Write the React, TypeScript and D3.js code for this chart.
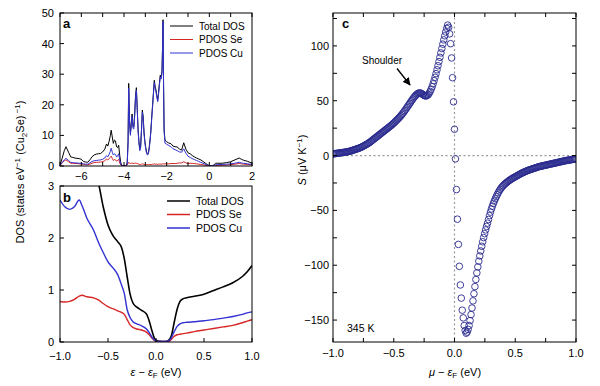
import React from 'react';
import * as d3 from 'd3';

const FONT = '"Liberation Sans", Arial, Helvetica, sans-serif';

// ---- panel a : DOS over the wide energy window (eV, states/eV/f.u.) ----
const aEnergy = [
  -7.0, -6.9, -6.8, -6.72, -6.6, -6.5, -6.4, -6.3, -6.2, -6.1,
  -6.0, -5.9, -5.8, -5.7, -5.6, -5.5, -5.4, -5.3, -5.2, -5.1,
  -5.0, -4.9, -4.82, -4.76, -4.7, -4.64, -4.6, -4.55, -4.5, -4.45,
  -4.4, -4.35, -4.3, -4.25, -4.2, -4.15, -4.1, -4.0, -3.9, -3.85,
  -3.81, -3.78, -3.74, -3.7, -3.66, -3.62, -3.58, -3.54, -3.5, -3.46,
  -3.42, -3.38, -3.34, -3.3, -3.26, -3.22, -3.18, -3.14, -3.1, -3.06,
  -3.02, -2.98, -2.94, -2.9, -2.86, -2.82, -2.78, -2.74, -2.7, -2.66,
  -2.62, -2.58, -2.54, -2.5, -2.46, -2.42, -2.38, -2.34, -2.3, -2.26,
  -2.22, -2.19, -2.17, -2.15, -2.12, -2.08, -2.0, -1.9, -1.8, -1.7,
  -1.6, -1.5, -1.4, -1.3, -1.2, -1.1, -1.0, -0.9, -0.8, -0.7,
  -0.6, -0.5, -0.4, -0.3, -0.2, -0.1, 0, 0.1, 0.2, 0.3,
  0.4, 0.6, 0.8, 1.0, 1.2, 1.4, 1.5, 1.6, 1.8, 2.0,
];
const aTotal = [
  0.3, 2.5, 5.0, 6.3, 4.5, 3.0, 2.8, 2.6, 2.5, 2.4,
  2.2, 1.5, 1.3, 1.2, 2.0, 3.0, 3.6, 3.9, 4.0, 4.1,
  4.6, 5.5, 7.2, 6.5, 8.0, 10.0, 11.7, 9.5, 7.4, 8.5,
  8.2, 6.3, 6.0, 6.8, 3.5, 1.0, 0.2, 0.1, 0.2, 1.0,
  8, 27, 15, 10.6, 14, 17, 13, 12.8, 17, 23,
  25.6, 19, 12, 8, 5.5, 6.5, 12, 18.3, 16, 11,
  8, 6, 4.5, 4.1, 4.3, 6, 8.5, 11.7, 16, 20,
  24, 28, 26, 24.8, 23, 21.5, 24, 27, 29.7, 29,
  31, 40, 47.8, 30, 12, 8.5, 7.9, 7.5, 7.3, 6.5,
  6.3, 6.2, 5.5, 5.2, 7.6, 5.5, 4.3, 4.0, 3.4, 3.0,
  2.6, 2.3, 2.0, 1.5, 1.0, 0.5, 0.1, 0.1, 0.3, 0.9,
  0.9, 0.9, 1.1, 1.4, 2.0, 2.6, 2.2, 1.9, 1.5, 0.9,
];
const aSe = [
  0.1, 1.0, 1.7, 2.0, 1.4, 0.9, 0.9, 0.8, 0.8, 0.7,
  0.7, 0.5, 0.4, 0.4, 0.6, 0.9, 1.1, 1.2, 1.2, 1.3,
  1.4, 1.7, 2.3, 2.0, 2.4, 2.8, 3.2, 2.5, 1.8, 2.1,
  2.0, 1.6, 1.8, 2.2, 1.0, 0.3, 0.1, 0.05, 0.1, 0.3,
  0.8, 1.2, 0.9, 0.8, 0.9, 1.0, 0.8, 0.8, 0.9, 0.9,
  0.9, 0.8, 0.7, 0.6, 0.5, 0.5, 0.6, 0.7, 0.6, 0.5,
  0.5, 0.5, 0.5, 0.5, 0.5, 0.5, 0.5, 0.5, 0.5, 0.6,
  0.6, 0.7, 0.6, 0.6, 0.6, 0.5, 0.6, 0.6, 0.6, 0.6,
  0.6, 0.7, 0.7, 0.7, 0.7, 0.7, 0.7, 0.7, 0.8, 0.8,
  0.8, 0.9, 1.0, 1.0, 1.4, 1.0, 0.8, 0.9, 0.85, 0.8,
  0.7, 0.6, 0.5, 0.4, 0.25, 0.15, 0.02, 0.02, 0.1, 0.15,
  0.2, 0.25, 0.3, 0.45, 0.6, 0.8, 0.7, 0.6, 0.5, 0.4,
];
const aCu = [
  0.2, 1.2, 2.0, 2.5, 1.8, 1.2, 1.1, 1.0, 1.0, 0.9,
  0.9, 0.7, 0.6, 0.6, 1.0, 1.5, 1.7, 1.8, 1.9, 2.0,
  2.2, 2.6, 3.4, 3.0, 3.8, 4.8, 5.8, 4.5, 3.6, 4.0,
  3.8, 3.0, 3.2, 4.0, 2.0, 0.6, 0.1, 0.05, 0.1, 0.6,
  7, 25.5, 14, 10, 13.3, 16.2, 12.3, 12.1, 16.2, 22.2,
  24.8, 18.3, 11.4, 7.5, 5.0, 6.0, 11.4, 17.6, 15.4, 10.5,
  7.5, 5.5, 4.0, 3.6, 3.8, 5.5, 8, 11.2, 15.5, 19.4,
  23.4, 27.3, 25.4, 24.2, 22.4, 21, 23.4, 26.4, 29.1, 28.4,
  30.4, 39.3, 47.2, 29.4, 11.3, 7.5, 7.1, 6.7, 6.3, 5.6,
  5.3, 5.0, 4.6, 4.5, 5.6, 4.2, 3.2, 2.8, 2.4, 2.1,
  1.8, 1.5, 1.2, 0.9, 0.6, 0.3, 0.05, 0.05, 0.15, 0.4,
  0.45, 0.5, 0.6, 0.7, 0.9, 1.2, 1.0, 0.9, 0.7, 0.5,
];

// ---- panel b : zoom around the Fermi level ----
const bEnergy = [
  -1.0, -0.95, -0.9, -0.85, -0.8, -0.77, -0.72, -0.65, -0.6, -0.55,
  -0.5, -0.45, -0.4, -0.36, -0.33, -0.3, -0.27, -0.24, -0.2, -0.15,
  -0.1, -0.07, -0.04, -0.01, 0.02, 0.06, 0.1, 0.13, 0.16, 0.19,
  0.22, 0.25, 0.28, 0.32, 0.4, 0.5, 0.6, 0.7, 0.8, 0.9,
  0.95, 1.0,
];
const bTotal = [
  4.6, 4.4, 4.2, 4.0, 3.8, 3.65, 3.45, 3.2, 3.05, 2.6,
  2.25, 2.05, 1.93, 1.82, 1.6, 1.25, 0.92, 0.75, 0.67, 0.61,
  0.54, 0.4, 0.2, 0.05, 0.02, 0.01, 0.01, 0.03, 0.12, 0.38,
  0.63, 0.78, 0.83, 0.85, 0.88, 0.92, 0.99, 1.06, 1.14, 1.26,
  1.35, 1.47,
];
const bSe = [
  0.78, 0.77, 0.78, 0.82, 0.88, 0.9, 0.87, 0.85, 0.81, 0.74,
  0.68, 0.64, 0.6, 0.57, 0.53, 0.43, 0.33, 0.28, 0.25, 0.23,
  0.19, 0.14, 0.07, 0.02, 0.01, 0.01, 0.01, 0.01, 0.05, 0.11,
  0.14, 0.15, 0.16, 0.17, 0.2, 0.23, 0.26, 0.29, 0.32, 0.37,
  0.4, 0.43,
];
const bCu = [
  2.73, 2.6, 2.55, 2.6, 2.73, 2.62, 2.38, 2.15, 1.92, 1.72,
  1.54, 1.43, 1.3, 1.1, 0.93, 0.62, 0.47, 0.39, 0.35, 0.31,
  0.25, 0.18, 0.09, 0.03, 0.01, 0.01, 0.01, 0.02, 0.08, 0.2,
  0.3, 0.35, 0.37, 0.38, 0.39, 0.41, 0.43, 0.46, 0.49, 0.53,
  0.56, 0.58,
];

// ---- panel c : Seebeck coefficient (uV/K), mu from -1 to 1 eV every 8 meV ----
const cStart = -1;
const cStep = 0.008;
const cSeebeck = [
  1.5, 1.6, 1.8, 1.9, 2.0, 2.1, 2.3, 2.4, 2.5, 2.6,
  2.8, 2.9, 3.0, 3.2, 3.4, 3.5, 3.7, 3.9, 4.1, 4.4,
  4.7, 5.0, 5.3, 5.6, 5.9, 6.2, 6.5, 6.8, 7.2, 7.6,
  8.0, 8.5, 9.0, 9.5, 10.0, 10.5, 11.0, 11.6, 12.2, 12.9,
  13.6, 14.3, 15.0, 15.7, 16.4, 17.1, 17.8, 18.5, 19.2, 19.9,
  20.6, 21.3, 22.0, 22.7, 23.4, 24.1, 24.8, 25.5, 26.2, 26.9,
  27.6, 28.4, 29.2, 30.0, 30.9, 31.8, 32.7, 33.6, 34.5, 35.5,
  36.5, 37.6, 38.7, 39.9, 41.1, 42.4, 43.7, 45.0, 46.3, 47.6,
  48.9, 50.2, 51.5, 52.7, 53.8, 54.8, 55.7, 56.4, 56.9, 57.1,
  57.0, 56.6, 56.0, 55.3, 54.7, 54.4, 54.4, 54.8, 55.6, 56.9,
  58.5, 60.5, 62.8, 65.4, 68.3, 71.4, 74.7, 78.2, 81.9, 85.7,
  89.6, 93.6, 97.6, 101.6, 105.5, 109.2, 112.7, 116.0, 119.0, 117,
  111, 102, 89, 71, 49, 24, -3, -31, -58, -81,
  -101, -118, -130, -141, -148, -155, -159.5, -162, -161, -158.5,
  -155, -150.5, -145, -139, -132.5, -126, -119.5, -113, -107, -101.5,
  -96.3, -91.5, -87, -82.7, -78.6, -74.8, -71.2, -67.8, -64.6, -61.6,
  -58.3, -54.8, -51.6, -48.7, -46.1, -43.7, -41.5, -39.4, -37.4, -35.6,
  -33.9, -32.3, -30.9, -29.6, -28.5, -27.5, -26.6, -25.8, -25.0, -24.3,
  -23.6, -22.9, -22.3, -21.7, -21.1, -20.6, -20.1, -19.6, -19.1, -18.6,
  -18.1, -17.6, -17.1, -16.6, -16.1, -15.7, -15.3, -14.9, -14.5, -14.1,
  -13.7, -13.4, -13.1, -12.8, -12.5, -12.2, -11.9, -11.6, -11.3, -11.0,
  -10.7, -10.4, -10.1, -9.9, -9.7, -9.5, -9.3, -9.1, -8.9, -8.7,
  -8.5, -8.3, -8.1, -7.9, -7.7, -7.5, -7.3, -7.1, -6.9, -6.7,
  -6.5, -6.3, -6.1, -5.9, -5.7, -5.5, -5.3, -5.1, -4.9, -4.7,
  -4.5, -4.4, -4.2, -4.1, -3.9, -3.8, -3.6, -3.5, -3.3, -3.2,
  -3.0,
];

const aXTicks = [-6, -4, -2, 0, 2];
const aYTicks = [0, 10, 20, 30, 40, 50];
const bXTicks = [-1, -0.5, 0, 0.5, 1];
const bYTicks = [0, 1, 2, 3];
const cXTicks = [-1, -0.5, 0, 0.5, 1];
const cYTicks = [-150, -100, -50, 0, 50, 100];

const seriesNames = ['Total DOS', 'PDOS Se', 'PDOS Cu'];
const COLORS = { total: '#000000', se: '#d62626', cu: '#3232d2' };
const CIRCLE = '#2a2a8e';

const fmtMinus = (v: number, digits: number) => {
  const s = Math.abs(v).toFixed(digits);
  return v < 0 ? '\u2212' + s : s;
};

const pts = (xs: number[], ys: number[]) => {
  const n = Math.min(xs.length, ys.length);
  return d3.range(n).map((i) => [xs[i], ys[i]] as [number, number]);
};

const Legend = ({ x, y, gap, size, width }: any) => {
  const cols = [COLORS.total, COLORS.se, COLORS.cu];
  return (
    <g>
      {seriesNames.map((name, i) => (
        <g key={name} transform={`translate(${x},${y + i * gap})`}>
          <line x1={0} x2={23} y1={0} y2={0} stroke={cols[i]} strokeWidth={width} />
          <text x={29} y={3.6} fontSize={size}>{name}</text>
        </g>
      ))}
    </g>
  );
};

const App = () => {
  // scales
  const xa = d3.scaleLinear().domain([-7, 2]).range([60, 252]);
  const ya = d3.scaleLinear().domain([0, 50]).range([166, 13]);
  const xb = d3.scaleLinear().domain([-1, 1]).range([60, 252]);
  const yb = d3.scaleLinear().domain([0, 3]).range([342, 186]);
  const xc = d3.scaleLinear().domain([-1, 1]).range([333, 576]);
  const yc = d3.scaleLinear().domain([-170, 130]).range([342, 13]);

  const lineA = d3.line().x((d) => xa(d[0])).y((d) => ya(d[1]));
  const lineB = d3
    .line()
    .x((d) => xb(d[0]))
    .y((d) => yb(d[1]))
    .curve(d3.curveMonotoneX);

  const cPoints = cSeebeck.map((s, i) => ({ mu: cStart + i * cStep, s }));

  const tk = 4;

  return (
    <svg width={600} height={386} style={{ position: 'absolute', left: 0, top: 0 }} fontFamily={FONT}>
      <defs>
        <clipPath id="clipA"><rect x={60} y={13} width={192} height={153} /></clipPath>
        <clipPath id="clipB"><rect x={60} y={186} width={192} height={156} /></clipPath>
        <clipPath id="clipC"><rect x={333} y={13} width={243} height={329} /></clipPath>
        <marker id="arrow" viewBox="0 0 10 10" refX={9} refY={5} markerWidth={6} markerHeight={6} orient="auto">
          <path d="M0,0 L10,5 L0,10 z" fill="#000" />
        </marker>
      </defs>
      <rect width={600} height={386} fill="#fff" />

      {/* ---------- panel a ---------- */}
      <g clipPath="url(#clipA)" fill="none" strokeWidth={1}>
        <path d={lineA(pts(aEnergy, aTotal)) || ''} stroke={COLORS.total} />
        <path d={lineA(pts(aEnergy, aSe)) || ''} stroke={COLORS.se} />
        <path d={lineA(pts(aEnergy, aCu)) || ''} stroke={COLORS.cu} />
      </g>
      <rect x={60} y={13} width={192} height={153} fill="none" stroke="#000" strokeWidth={1} />
      {d3.range(-7, 3).map((v) => (
        <g key={'ax' + v} stroke="#000">
          <line x1={xa(v)} x2={xa(v)} y1={166} y2={166 - tk} />
          <line x1={xa(v)} x2={xa(v)} y1={13} y2={13 + tk} />
        </g>
      ))}
      {aXTicks.map((v) => (
        <text key={'axl' + v} x={xa(v)} y={180} fontSize={11} textAnchor="middle">{fmtMinus(v, 0)}</text>
      ))}
      {aYTicks.map((v) => (
        <g key={'ay' + v}>
          <line x1={60} x2={60 + tk} y1={ya(v)} y2={ya(v)} stroke="#000" />
          <text x={54} y={ya(v) + 4} fontSize={11} textAnchor="end">{v}</text>
        </g>
      ))}
      <text x={63} y={28} fontSize={13} fontWeight="bold">a</text>
      <Legend x={170} y={26} gap={13.5} size={10} width={1} />

      {/* ---------- panel b ---------- */}
      <g clipPath="url(#clipB)" fill="none" strokeWidth={1.4}>
        <path d={lineB(pts(bEnergy, bTotal)) || ''} stroke={COLORS.total} strokeWidth={1.6} />
        <path d={lineB(pts(bEnergy, bSe)) || ''} stroke={COLORS.se} />
        <path d={lineB(pts(bEnergy, bCu)) || ''} stroke={COLORS.cu} />
      </g>
      <rect x={60} y={186} width={192} height={156} fill="none" stroke="#000" strokeWidth={1} />
      {bXTicks.map((v) => (
        <g key={'bx' + v}>
          <line x1={xb(v)} x2={xb(v)} y1={342} y2={342 - tk} stroke="#000" />
          <text x={xb(v)} y={360} fontSize={11} textAnchor="middle">{fmtMinus(v, 1)}</text>
        </g>
      ))}
      {bYTicks.map((v) => (
        <g key={'by' + v}>
          <line x1={60} x2={60 + tk} y1={yb(v)} y2={yb(v)} stroke="#000" />
          <text x={54} y={yb(v) + 4} fontSize={11} textAnchor="end">{v}</text>
        </g>
      ))}
      <text x={63} y={202} fontSize={13} fontWeight="bold">b</text>
      <Legend x={167} y={201} gap={13.5} size={10.5} width={1.5} />
      <text x={156} y={376} fontSize={11} textAnchor="middle">
        <tspan fontStyle="italic">ε</tspan>
        <tspan> − </tspan>
        <tspan fontStyle="italic">ε</tspan>
        <tspan fontSize={8} dy={2}>F</tspan>
        <tspan dy={-2}> (eV)</tspan>
      </text>

      {/* shared y title for a and b */}
      <text transform="translate(24,172) rotate(-90)" fontSize={11} textAnchor="middle">
        <tspan>DOS (states eV</tspan>
        <tspan fontSize={8} dy={-4}>−1</tspan>
        <tspan dy={4}> (Cu</tspan>
        <tspan fontSize={8} dy={2.5}>2</tspan>
        <tspan dy={-2.5}>Se)</tspan>
        <tspan fontSize={8} dy={-4}> −1</tspan>
        <tspan dy={4}>)</tspan>
      </text>

      {/* ---------- panel c ---------- */}
      <line x1={333} x2={576} y1={yc(0)} y2={yc(0)} stroke="#9a9a9a" strokeWidth={1.2} strokeDasharray="2,2.5" />
      <line x1={xc(0)} x2={xc(0)} y1={13} y2={342} stroke="#9a9a9a" strokeWidth={1.2} strokeDasharray="2,2.5" />
      <g clipPath="url(#clipC)" fill="none" stroke={CIRCLE} strokeWidth={0.9}>
        {cPoints.map((p, i) => (
          <circle key={i} cx={xc(p.mu)} cy={yc(p.s)} r={3.3} />
        ))}
      </g>
      <rect x={333} y={13} width={243} height={329} fill="none" stroke="#000" strokeWidth={1} />
      {d3.range(-1, 1.001, 0.25).map((v) => (
        <g key={'cx' + v} stroke="#000">
          <line x1={xc(v)} x2={xc(v)} y1={342} y2={342 - tk} />
          <line x1={xc(v)} x2={xc(v)} y1={13} y2={13 + tk} />
        </g>
      ))}
      {d3.range(-150, 126, 25).map((v) => (
        <g key={'cy' + v} stroke="#000">
          <line x1={333} x2={333 + tk} y1={yc(v)} y2={yc(v)} />
          <line x1={576} x2={576 - tk} y1={yc(v)} y2={yc(v)} />
        </g>
      ))}
      {cXTicks.map((v) => (
        <text key={'cxl' + v} x={xc(v)} y={357} fontSize={11} textAnchor="middle">{fmtMinus(v, 1)}</text>
      ))}
      {cYTicks.map((v) => (
        <text key={'cyl' + v} x={329} y={yc(v) + 4} fontSize={11} textAnchor="end">{fmtMinus(v, 0)}</text>
      ))}
      <text x={342} y={28} fontSize={13} fontWeight="bold">c</text>
      <text x={362} y={64} fontSize={10}>Shoulder</text>
      <line x1={397} y1={68.5} x2={410} y2={85} stroke="#000" strokeWidth={1.3} markerEnd="url(#arrow)" />
      <text x={347} y={332} fontSize={10.5}>345 K</text>
      <text x={455} y={376} fontSize={11} textAnchor="middle">
        <tspan fontStyle="italic">μ</tspan>
        <tspan> − </tspan>
        <tspan fontStyle="italic">ε</tspan>
        <tspan fontSize={8} dy={2}>F</tspan>
        <tspan dy={-2}> (eV)</tspan>
      </text>
      <text transform="translate(306,160) rotate(-90)" fontSize={11} textAnchor="middle">
        <tspan fontStyle="italic">S</tspan>
        <tspan> (μV K</tspan>
        <tspan fontSize={8} dy={-4}>−1</tspan>
        <tspan dy={4}>)</tspan>
      </text>
    </svg>
  );
};

export default App;
